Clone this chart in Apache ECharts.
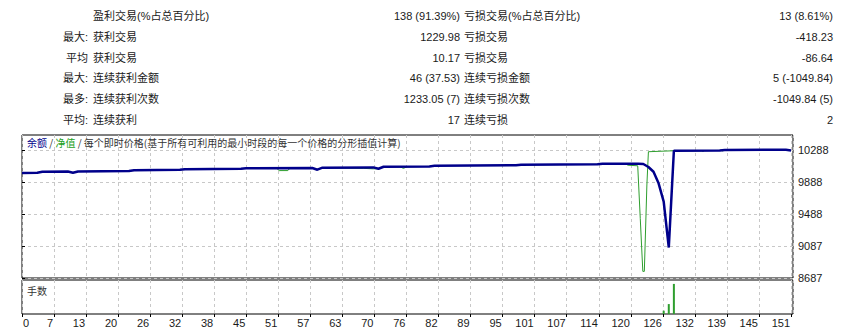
<!DOCTYPE html>
<html>
<head>
<meta charset="utf-8">
<script src="https://cdn.jsdelivr.net/npm/echarts@6/dist/echarts.min.js"></script>
<style>
    html, body { margin: 0; padding: 0; background: #fff; }
    #chart { width: 846px; height: 335px; }
</style>
</head>
<body>
<div id="chart"></div>
<script>
// stats table
const statPrefix = ['', '最大:', '平均', '最大:', '最多:', '平均:']
const statLabelL = ['盈利交易(%占总百分比)', '获利交易', '获利交易', '连续获利金额', '连续获利次数', '连续获利']
const statValueL = ['138 (91.39%)', '1229.98', '10.17', '46 (37.53)', '1233.05 (7)', '17']
const statLabelR = ['亏损交易(%占总百分比)', '亏损交易', '亏损交易', '连续亏损金额', '连续亏损次数', '连续亏损']
const statValueR = ['13 (8.61%)', '-418.23', '-86.64', '5 (-1049.84)', '-1049.84 (5)', '2']

// axis ticks
const xTickLabels = ['0', '7', '13', '20', '26', '32', '38', '45', '51', '57', '63', '70', '76', '82', '89', '95', '101', '107', '114', '120', '126', '132', '139', '145', '151']
const yTicks = [8687, 9087, 9488, 9888, 10288]

// balance (trade no. / value)
const balanceX = [0, 3, 4, 9, 10, 11, 21, 22, 31, 32, 43, 44, 57, 58, 59, 69, 70, 71, 80, 81, 97, 98, 113, 114, 121, 122, 123, 124, 125, 126, 127, 128, 137, 138, 150, 151]
const balanceY = [10000, 10004, 10016, 10018, 10003, 10019, 10024, 10034, 10040, 10047, 10052, 10059, 10062, 10041, 10066, 10070, 10053, 10078, 10082, 10091, 10096, 10103, 10108, 10116, 10116, 10112, 10075, 10016, 9871, 9641, 9068, 10278, 10282, 10288, 10290, 10282]

// equity (trade no. / value)
const equityX = [0, 3, 4, 9, 10, 11, 21, 22, 31, 32, 43, 44, 50, 50.5, 52.2, 52.6, 57, 58, 59, 67, 69, 70, 71, 74.2, 74.9, 75.6, 80, 81, 97, 98, 113, 114, 118.4, 119, 120.9, 121.4, 121.9, 122.2, 122.7, 123, 128, 133.5, 133.7, 134, 137.4, 137.6, 138, 150, 151]
const equityY = [10000, 10004, 10016, 10018, 10003, 10019, 10024, 10034, 10040, 10047, 10052, 10059, 10060, 10030, 10030, 10060, 10062, 10041, 10066, 10058, 10052, 10053, 10078, 10078, 10058, 10078, 10082, 10091, 10096, 10103, 10108, 10116, 10116, 10097, 10090, 9430, 8770, 8770, 9850, 10266, 10278, 10278, 10270, 10280, 10282, 10276, 10288, 10290, 10282]

// lots
const lotsX = [126, 127, 128]
const lotsY = [0.11, 0.33, 1]

const xMax = 151.39
const xStep = 151 / 24
const zip = (xs, ys) => xs.map((x, i) => [x, ys[i]])

const latin = '"Liberation Sans", "Noto Sans CJK SC", sans-serif'
const rowY = (i) => 16 + i * 20.8

const tableTexts = []
statLabelL.forEach((_, i) => {
    const y = rowY(i)
    const base = { font: '11px ' + latin, fill: '#1a1a1a', textVerticalAlign: 'middle' }
    if (statPrefix[i]) tableTexts.push({ type: 'text', x: 88, y, style: { ...base, text: statPrefix[i], textAlign: 'right' } })
    tableTexts.push({ type: 'text', x: 93, y, style: { ...base, text: statLabelL[i], textAlign: 'left' } })
    tableTexts.push({ type: 'text', x: 460, y, style: { ...base, text: statValueL[i], textAlign: 'right' } })
    tableTexts.push({ type: 'text', x: 464, y, style: { ...base, text: statLabelR[i], textAlign: 'left' } })
    tableTexts.push({ type: 'text', x: 833, y, style: { ...base, text: statValueR[i], textAlign: 'right' } })
})

const dashed = { show: true, lineStyle: { color: '#c8c8c8', type: [3, 3], width: 1 } }
const xLabel = (v) => {
    const i = Math.round(v / xStep)
    return Math.abs(v - i * xStep) < 1e-3 && xTickLabels[i] !== undefined ? xTickLabels[i] : ''
}

const chart = echarts.init(document.getElementById('chart'), null, { renderer: 'svg' })
chart.setOption({
    animation: false,
    backgroundColor: '#fff',
    grid: [
        { left: 22, top: 135, width: 771, height: 143, show: true, borderColor: '#000', borderWidth: 1, containLabel: false },
        { left: 22, top: 280, width: 771, height: 34, show: true, borderColor: '#000', borderWidth: 1, containLabel: false },
    ],
    xAxis: [
        {
            type: 'value', gridIndex: 0, min: 0, max: xMax, interval: xStep,
            axisLine: { show: false }, axisTick: { show: false }, axisLabel: { show: false },
            splitLine: dashed,
        },
        {
            type: 'value', gridIndex: 1, min: 0, max: xMax, interval: xStep,
            axisLine: { show: false },
            axisTick: { show: true, length: 3, lineStyle: { color: '#000' } },
            axisLabel: {
                formatter: xLabel, color: '#1a1a1a', fontSize: 11, fontFamily: latin,
                margin: 3, align: 'right', alignMinLabel: 'left', padding: [0, 1, 0, 1],
                showMaxLabel: false,
            },
            splitLine: dashed,
        },
    ],
    yAxis: [
        {
            type: 'value', gridIndex: 0, position: 'right', min: 8687, max: 10475,
            axisLine: { show: false },
            axisTick: { show: true, length: 3, customValues: yTicks, lineStyle: { color: '#000' } },
            axisLabel: {
                customValues: yTicks, formatter: (v) => String(Math.round(v)),
                color: '#1a1a1a', fontSize: 11, fontFamily: latin, margin: 5,
            },
            splitLine: dashed,
        },
        {
            type: 'value', gridIndex: 1, min: 0, max: 1.13,
            axisLine: { show: false }, axisTick: { show: false }, axisLabel: { show: false }, splitLine: { show: false },
        },
    ],
    graphic: [
        ...tableTexts,
        {
            type: 'text', x: 27, y: 142,
            style: {
                text: '{b|余额} / {g|净值} / 每个即时价格(基于所有可利用的最小时段的每一个价格的分形插值计算)',
                font: '10px "Noto Sans CJK SC", sans-serif', fill: '#333', textVerticalAlign: 'middle',
                rich: {
                    b: { fill: '#00008b', font: '10px "Noto Sans CJK SC", sans-serif' },
                    g: { fill: '#1aa01a', font: '10px "Noto Sans CJK SC", sans-serif' },
                },
            },
        },
        {
            type: 'text', x: 27, y: 290,
            style: { text: '手数', font: '10px "Noto Sans CJK SC", sans-serif', fill: '#333', textVerticalAlign: 'middle' },
        },
    ],
    series: [
        {
            name: '净值', type: 'line', xAxisIndex: 0, yAxisIndex: 0, data: zip(equityX, equityY),
            showSymbol: false, lineStyle: { color: '#2e9e2e', width: 1 }, z: 2,
        },
        {
            name: '余额', type: 'line', xAxisIndex: 0, yAxisIndex: 0, data: zip(balanceX, balanceY),
            showSymbol: false, lineStyle: { color: '#00008b', width: 2.5 }, z: 3,
        },
        {
            name: '手数', type: 'bar', xAxisIndex: 1, yAxisIndex: 1, data: zip(lotsX, lotsY),
            barWidth: 2, itemStyle: { color: '#2e9e2e' },
        },
    ],
})
</script>
</body>
</html>
